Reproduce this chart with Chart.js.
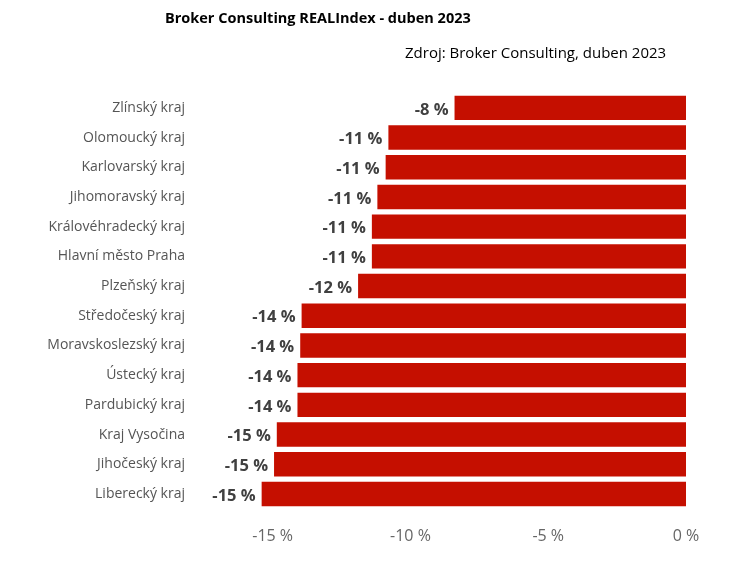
<!DOCTYPE html>
<html><head><meta charset="utf-8">
<script src="https://cdn.jsdelivr.net/npm/chart.js@4"></script>
<style>html,body{margin:0;padding:0;background:#fff}#w{position:relative;width:736px;height:568px}
.t{position:absolute;font-family:"Open Sans",Calibri,sans-serif;color:#000}</style>
</head><body><div id="w">
<div class="t" style="left:165px;top:8px;font-size:14.5px;font-weight:bold">Broker Consulting REALIndex - duben 2023</div>
<div class="t" style="left:405px;top:42px;font-size:15px">Zdroj: Broker Consulting, duben 2023</div>
<canvas id="c" width="736" height="568"></canvas></div>
<script>
const categories=["Zlínský kraj","Olomoucký kraj","Karlovarský kraj","Jihomoravský kraj","Královéhradecký kraj","Hlavní město Praha","Plzeňský kraj","Středočeský kraj","Moravskoslezský kraj","Ústecký kraj","Pardubický kraj","Kraj Vysočina","Jihočeský kraj","Liberecký kraj"];
const values=[-8.4,-10.8,-10.9,-11.2,-11.4,-11.4,-11.9,-13.95,-14.0,-14.1,-14.1,-14.85,-14.95,-15.4];
const ticks=[-15,-10,-5,0];
const lbl={id:'lbl',afterDatasetsDraw(ch){const c=ch.ctx;const m=ch.getDatasetMeta(0);c.save();c.font='bold 16.5px "Open Sans",sans-serif';c.fillStyle='#404040';c.textAlign='right';c.textBaseline='middle';
m.data.forEach((b,i)=>{c.fillText(Math.round(values[i])+' %',b.x-6,b.y+2);});c.restore();}};
new Chart(document.getElementById('c'),{type:'bar',data:{labels:categories,datasets:[{data:values,backgroundColor:'#c50f00',barPercentage:0.82,categoryPercentage:1}]},
options:{indexAxis:'y',responsive:false,animation:false,layout:{padding:{top:93,right:50,left:12,bottom:12}},
plugins:{legend:{display:false},tooltip:{enabled:false}},
scales:{x:{min:-18,max:0,grid:{display:false},border:{display:false},afterBuildTicks(a){a.ticks=ticks.map(v=>({value:v}));},
ticks:{color:'#666',font:{size:16,family:'"Open Sans",sans-serif'},padding:10,callback:v=>v+' %'}},
y:{afterFit(a){a.width=178;},grid:{display:false},border:{display:false},ticks:{color:'#555',font:{size:14,family:'"Open Sans",sans-serif'},padding:-3}}}},plugins:[lbl]});
</script></body></html>
